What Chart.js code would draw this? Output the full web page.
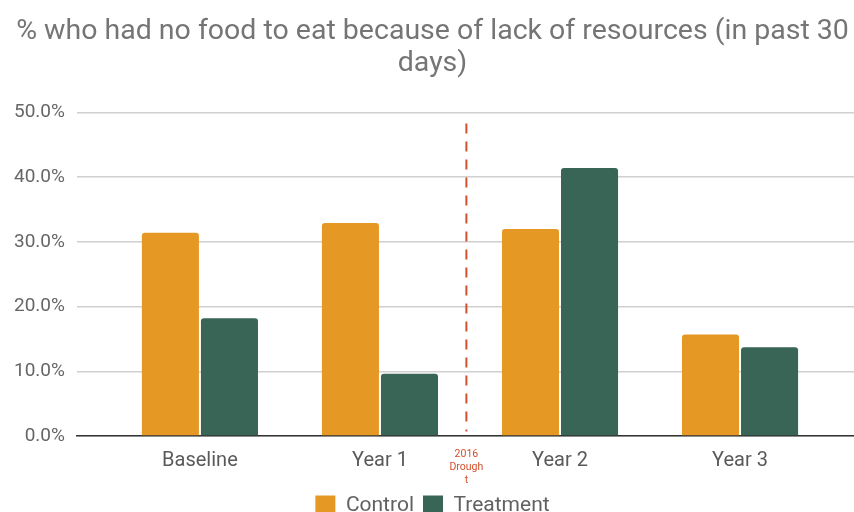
<!DOCTYPE html>
<html>
<head>
<meta charset="utf-8">
<script src="https://cdn.jsdelivr.net/npm/chart.js@4.4.1/dist/chart.umd.min.js"></script>
<style>
  html, body { margin: 0; padding: 0; background: #fff; overflow: hidden; }
  #wrap { width: 870px; height: 530px; }
</style>
</head>
<body>
<div id="wrap"><canvas id="chart" width="870" height="530"></canvas></div>
<script>
// ── data ────────────────────────────────────────────────────────────────────
const categories   = ['Baseline', 'Year 1', 'Year 2', 'Year 3'];
const controlVals  = [31.4, 32.9, 32.0, 15.7];
const treatVals    = [18.2, 9.6, 41.4, 13.7];
const yTicks       = [0, 10, 20, 30, 40, 50];
const droughtAt    = 1.48;                 // between Year 1 and Year 2
const droughtSpan  = [0.7, 48.3];          // dashed line extent, in % units
const droughtLabel = ['2016', 'Drough', 't'];

const ORANGE = '#E69824';
const GREEN  = '#386555';

// bars sit on integer positions of a linear x axis so the axis can run
// a little past the outer categories on both sides
const toPoints = vals => vals.map((v, i) => ({ x: i, y: v }));

// dashed "drought" marker plus its small red caption under the axis
const droughtMarker = {
  id: 'droughtMarker',
  afterDatasetsDraw(chart) {
    const { ctx, scales: { x, y }, chartArea } = chart;
    const px = x.getPixelForValue(droughtAt);
    ctx.save();
    ctx.strokeStyle = '#D2502C';
    ctx.lineWidth = 2;
    ctx.setLineDash([10, 8]);
    ctx.beginPath();
    ctx.moveTo(px, y.getPixelForValue(droughtSpan[1]));
    ctx.lineTo(px, y.getPixelForValue(droughtSpan[0]));
    ctx.stroke();
    ctx.setLineDash([]);
    ctx.fillStyle = '#D2502C';
    ctx.font = '10.5px Roboto';
    ctx.textAlign = 'center';
    ctx.textBaseline = 'middle';
    droughtLabel.forEach((t, i) => ctx.fillText(t, px, chartArea.bottom + 18 + i * 13));
    ctx.restore();
  }
};

new Chart(document.getElementById('chart'), {
  type: 'bar',
  data: {
    datasets: [
      { label: 'Control',   data: toPoints(controlVals), backgroundColor: ORANGE,
        borderRadius: { topLeft: 3, topRight: 3 }, borderSkipped: 'start' },
      { label: 'Treatment', data: toPoints(treatVals),   backgroundColor: GREEN,
        borderRadius: { topLeft: 3, topRight: 3 }, borderSkipped: 'start' }
    ]
  },
  options: {
    responsive: false,
    animation: false,
    categoryPercentage: 0.656,
    barPercentage: 0.966,
    layout: { padding: { left: 2, right: 7, top: 0, bottom: 4 } },
    plugins: {
      title: {
        display: true,
        text: ['% who had no food to eat because of lack of resources (in past 30', 'days)'],
        color: '#757575',
        font: { family: 'Roboto', size: 28.5, weight: 'normal', lineHeight: 1.13 },
        padding: { top: 16, bottom: 32 }
      },
      legend: {
        position: 'bottom',
        labels: {
          color: '#616161',
          font: { family: 'Roboto', size: 21 },
          boxWidth: 20, boxHeight: 20,
          padding: 9
        }
      },
      tooltip: { enabled: false }
    },
    scales: {
      x: {
        type: 'linear',
        min: -0.683, max: 3.683,
        offset: false,
        afterBuildTicks: s => { s.ticks = categories.map((_, i) => ({ value: i })); },
        ticks: {
          autoSkip: false, maxRotation: 0,
          padding: 13,
          color: '#5a5a5a',
          font: { family: 'Roboto', size: 20 },
          callback: v => categories[v]
        },
        grid: { display: false, drawTicks: false },
        border: { display: true, color: '#333', width: 1.5 }
      },
      y: {
        min: 0, max: 50,
        afterBuildTicks: s => { s.ticks = yTicks.map(v => ({ value: v })); },
        ticks: {
          padding: 12,
          color: '#666',
          font: { family: 'Roboto', size: 19 },
          callback: v => v.toFixed(1) + '%'
        },
        grid: { color: '#d0d0d0', lineWidth: 1.5, drawTicks: false },
        border: { display: false }
      }
    }
  },
  plugins: [droughtMarker]
});
</script>
</body>
</html>
